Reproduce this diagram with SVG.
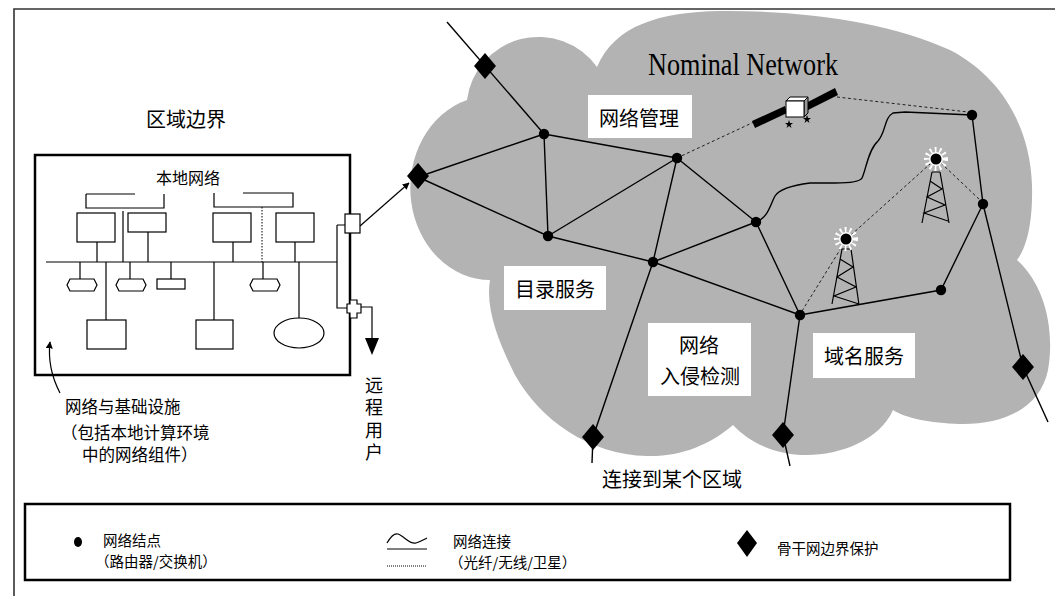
<svg xmlns="http://www.w3.org/2000/svg" width="1055" height="596" viewBox="0 0 1055 596">
  <style>
    .cjk { font-family: "Noto Sans CJK SC", "Noto Sans", sans-serif; fill: #000; }
    .ln { stroke: #000; stroke-width: 1.4; fill: none; }
    .thin { stroke: #000; stroke-width: 1.2; fill: none; }
    .dot { stroke: #222; stroke-width: 1; stroke-dasharray: 3 2.5; fill: none; }
    .dev { fill: #fff; stroke: #000; stroke-width: 1.2; }
    .lbl { fill: #fff; }
    .node { fill: #000; }
  </style>
  <defs>
    <path id="dia" d="M0,-13 L11,0 L0,13 L-11,0 Z" fill="#000"/>
    <path id="cap" d="M3,0 L27,0 L30,6 L27,12 L3,12 L0,6 Z" class="dev"/>
    <marker id="ah" viewBox="0 0 10 10" refX="9" refY="5" markerWidth="7" markerHeight="7" orient="auto" markerUnits="userSpaceOnUse">
      <path d="M0,0 L10,5 L0,10 Z" fill="#000"/>
    </marker>
    <g id="beacon">
      <circle r="9.5" fill="none" stroke="#fff" stroke-width="5" stroke-dasharray="1.8 3"/>
      <circle r="7" fill="#fff"/>
      <circle r="5.5" fill="#000"/>
    </g>
  </defs>

  <rect width="1055" height="596" fill="#fff"/>

  <!-- outer region frame -->
  <path d="M14,596 L14,9 L1055,9" fill="none" stroke="#333" stroke-width="1.6"/>

  <!-- cloud -->
  <path id="cloud" fill="#b3b3b3" d="M467,100 A72 72 0 0 1 597,67 C615,25 660,12 720,11 C800,10 890,22 950,50 C1000,76 1030,125 1032,185 C1033,225 1026,248 1017,260 C1045,285 1055,330 1048,370 C1040,410 1000,425 960,424 C930,423 905,418 893,410 C880,440 840,455 807,455 C775,455 750,443 733,425 C710,445 680,457 647,456 C590,455 540,420 515,375 C500,345 485,310 490,280 A80 92 0 0 1 467,100 Z"/>

  <text x="648" y="75" font-family="Liberation Serif, serif" font-size="31" textLength="190" lengthAdjust="spacingAndGlyphs">Nominal Network</text>

  <!-- region label -->
  <text class="cjk" x="186" y="118" font-size="20" text-anchor="middle" dominant-baseline="central">区域边界</text>

  <!-- local computing environment -->
  <g id="local-network">
    <rect x="35" y="155" width="315" height="220" fill="none" stroke="#000" stroke-width="2.5"/>
    <text class="cjk" x="188" y="177" font-size="16" text-anchor="middle" dominant-baseline="central">本地网络</text>
    <path class="thin" d="M86,194 L135,194 M86,194 L86,208 L164,208 L164,194"/>
    <path class="thin" d="M243,193 L293,193 L293,207 L214,207 L214,193"/>
    <rect class="dev" x="77" y="213" width="38" height="29"/>
    <rect class="dev" x="128" y="213" width="38" height="19"/>
    <rect class="dev" x="213" y="213" width="38" height="29"/>
    <rect class="dev" x="276" y="213" width="38" height="29"/>
    <path class="thin" d="M46,262 L337,262"/>
    <path class="thin" d="M97,242 L97,262 M148,232 L148,262 M233,242 L233,262 M295,242 L295,262 M123,211 L123,262"/>
    <path d="M262,207 L262,262" stroke="#000" stroke-width="1" stroke-dasharray="1.5 1.5"/>
    <path class="thin" d="M80,262 L80,279 M130,262 L130,279 M171,262 L171,279 M263,262 L263,279"/>
    <use href="#cap" x="67" y="279"/>
    <use href="#cap" x="116" y="279"/>
    <use href="#cap" x="250" y="279"/>
    <rect class="dev" x="157" y="279" width="28" height="10"/>
    <path class="thin" d="M106,262 L106,320 M214,262 L214,320 M299,262 L299,318"/>
    <rect class="dev" x="87" y="320" width="39" height="29"/>
    <rect class="dev" x="196" y="320" width="37" height="29"/>
    <ellipse class="dev" cx="299" cy="333" rx="25" ry="15"/>
    <!-- gateway links -->
    <path class="thin" d="M337,225 L345,225 M337,225 L337,308 L348,308 M360,307 L372,307 L372,340"/>
    <rect class="dev" x="345" y="214" width="15" height="19"/>
    <path class="dev" d="M350,300 L357,300 L357,304 L361,304 L361,313 L357,313 L357,318 L350,318 L350,313 L347,313 L347,304 L350,304 Z"/>
    <path d="M365,338 L379,338 L372,355 Z" fill="#000"/>
  </g>

  <!-- remote users (vertical label) -->
  <text id="remote-users" class="cjk" x="374" y="376" font-size="18" writing-mode="tb" letter-spacing="4.5">远程用户</text>

  <!-- infrastructure note -->
  <g id="infra-note">
    <path class="thin" d="M60,393 Q47,368 50,342" marker-end="url(#ah)"/>
    <text class="cjk" x="65" y="406" font-size="16.5" dominant-baseline="central">网络与基础设施</text>
    <text class="cjk" x="61" y="432" font-size="16.5" dominant-baseline="central">（包括本地计算环境</text>
    <text class="cjk" x="82" y="454" font-size="16.5" dominant-baseline="central">中的网络组件）</text>
  </g>

  <!-- connectors -->
  <g id="connectors">
    <path class="thin" d="M360,226 L409,183" marker-end="url(#ah)"/>
    <path class="ln" d="M447,22 L544,134"/>
    <path class="ln" d="M418,177 L544,134 M418,177 L548,236"/>
    <path class="ln" d="M544,134 L677,158 M544,134 L548,236 M548,236 L677,158 M548,236 L653,262"/>
    <path class="ln" d="M677,158 L653,262 M677,158 L756,222 M653,262 L756,222 M653,262 L800,315 M756,222 L800,315"/>
    <path class="ln" d="M653,262 L593,437 L592,463"/>
    <path class="ln" d="M800,315 L783,435 L790,466"/>
    <path class="ln" d="M800,315 L941,290 L983,204 L972,115"/>
    <path class="ln" d="M983,204 L1023,367 L1048,422"/>
    <path class="ln" d="M756,222 C768,218 770,205 775,196 C780,188 795,185 810,183 L835,183 C850,183 860,182 862,178 C866,170 868,150 878,141 C886,132 884,118 893,113 L905,112 L972,115"/>
    <path class="dot" d="M677,158 L754,122"/>
    <path class="dot" d="M837,97 L968,112"/>
    <path class="dot" d="M802,311 L843,245"/>
    <path class="dot" d="M851,235 L930,164"/>
    <path class="dot" d="M941,163 L980,200"/>
  </g>

  <!-- satellite -->
  <g id="satellite">
    <polygon points="752,121 785,106 787,113 755,128" fill="#000"/>
    <polygon points="804,104 835,88 838,95 806,111" fill="#000"/>
    <polygon points="786,101 790,97 808,97 804,101" fill="#fff" stroke="#000" stroke-width="1"/>
    <polygon points="804,101 808,97 808,113 804,117" fill="#999" stroke="#000" stroke-width="1"/>
    <rect x="786" y="101" width="18" height="16" fill="#fff" stroke="#000" stroke-width="1"/>
    <path d="M789,120 L790,123 L793,123 L790.5,125 L791.5,128 L789,126 L786.5,128 L787.5,125 L785,123 L788,123 Z" fill="#000"/>
    <path d="M807,115 L808,118 L811,118 L808.5,120 L809.5,123 L807,121 L804.5,123 L805.5,120 L803,118 L806,118 Z" fill="#000"/>
  </g>

  <!-- radio towers -->
  <g id="tower-1">
    <path class="thin" d="M842,249 L832,304 M851,249 L859,305 M842,249 L851,249 M840,259 L853,267 L837,277 L856,287 L834,296 L859,304"/>
    <use href="#beacon" x="846" y="239"/>
  </g>
  <g id="tower-2">
    <path class="thin" d="M932,172 L922,223 M940,172 L949,223 M932,172 L940,172 M930,181 L942,189 L927,197 L945,205 L924,213 L948,221"/>
    <use href="#beacon" x="936" y="159"/>
  </g>

  <!-- network nodes -->
  <g id="nodes">
    <circle id="node-1" class="node" cx="544" cy="134" r="5.2"/>
    <circle id="node-2" class="node" cx="677" cy="158" r="5.2"/>
    <circle id="node-3" class="node" cx="548" cy="236" r="5.2"/>
    <circle id="node-4" class="node" cx="653" cy="262" r="5.2"/>
    <circle id="node-5" class="node" cx="756" cy="222" r="5.2"/>
    <circle id="node-6" class="node" cx="800" cy="315" r="5.2"/>
    <circle id="node-7" class="node" cx="941" cy="290" r="5.2"/>
    <circle id="node-8" class="node" cx="983" cy="204" r="5.2"/>
    <circle id="node-9" class="node" cx="972" cy="115" r="5.2"/>
  </g>

  <!-- backbone boundary protection -->
  <g id="boundaries">
    <use id="bp-1" href="#dia" x="485" y="66"/>
    <use id="bp-2" href="#dia" x="418" y="176"/>
    <use id="bp-3" href="#dia" x="593" y="437"/>
    <use id="bp-4" href="#dia" x="783" y="435"/>
    <use id="bp-5" href="#dia" x="1023" y="367"/>
  </g>

  <!-- service labels -->
  <g id="svc-mgmt">
    <rect class="lbl" x="588" y="95" width="104" height="43"/>
    <text class="cjk" x="639" y="117" font-size="20" text-anchor="middle" dominant-baseline="central">网络管理</text>
  </g>
  <g id="svc-dir">
    <rect class="lbl" x="504" y="266" width="102" height="44"/>
    <text class="cjk" x="555" y="288" font-size="20" text-anchor="middle" dominant-baseline="central">目录服务</text>
  </g>
  <g id="svc-ids">
    <rect class="lbl" x="648" y="323" width="103" height="73"/>
    <text class="cjk" x="699" y="344" font-size="20" text-anchor="middle" dominant-baseline="central">网络</text>
    <text class="cjk" x="700" y="375" font-size="20" text-anchor="middle" dominant-baseline="central">入侵检测</text>
  </g>
  <g id="svc-dns">
    <rect class="lbl" x="813" y="333" width="102" height="45"/>
    <text class="cjk" x="864" y="355" font-size="20" text-anchor="middle" dominant-baseline="central">域名服务</text>
  </g>

  <text class="cjk" x="672" y="478" font-size="20" text-anchor="middle" dominant-baseline="central">连接到某个区域</text>

  <!-- legend -->
  <g id="legend">
    <rect x="25" y="504" width="985" height="76" fill="#fff" stroke="#000" stroke-width="2.5"/>
    <ellipse cx="78" cy="542" rx="4" ry="5" fill="#000"/>
    <text class="cjk" x="103" y="539" font-size="14.5" dominant-baseline="central">网络结点</text>
    <text class="cjk" x="95" y="560" font-size="14.5" dominant-baseline="central">（路由器/交换机）</text>
    <path class="thin" d="M387,543 C391,536 394,533 398,534 C404,536 410,545 416,543 C420,542 423,540 427,538"/>
    <path class="thin" d="M387,549 L427,549"/>
    <path d="M387,566 L427,566" stroke="#000" stroke-width="1" stroke-dasharray="1 1"/>
    <text class="cjk" x="453" y="540" font-size="14.5" dominant-baseline="central">网络连接</text>
    <text class="cjk" x="449" y="561" font-size="14.5" dominant-baseline="central">（光纤/无线/卫星）</text>
    <path d="M747,530 L757,543 L747,557 L737,543 Z" fill="#000"/>
    <text class="cjk" x="777" y="547" font-size="14.5" dominant-baseline="central">骨干网边界保护</text>
  </g>
</svg>
